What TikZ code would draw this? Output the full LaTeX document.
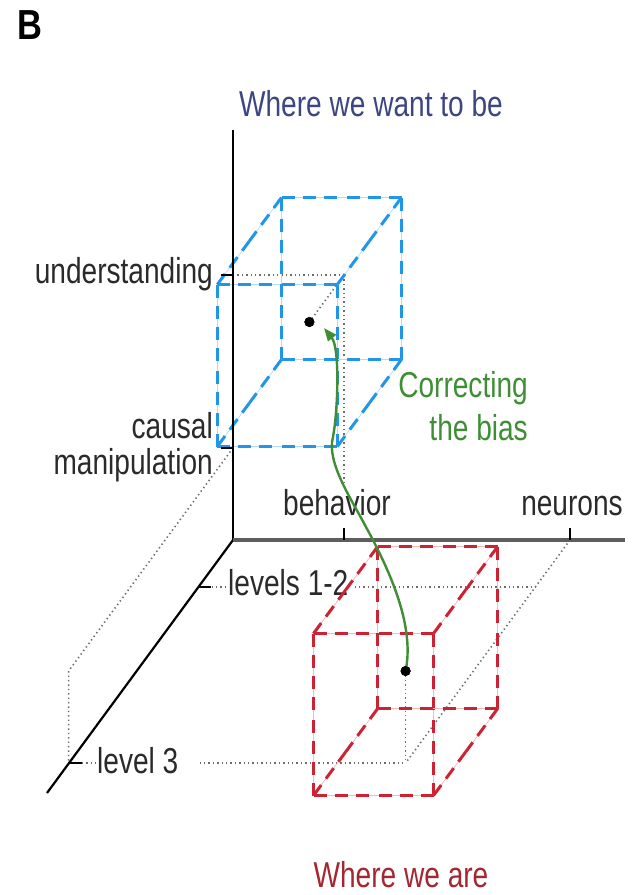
\documentclass[tikz,border=0pt]{standalone}
\usepackage{fontspec}
\setmainfont{Liberation Sans}
\usepackage{graphicx}
\usetikzlibrary{arrows.meta,calc}
\definecolor{txtgray}{HTML}{2A2A2A}
\definecolor{titleblue}{HTML}{3C4682}
\definecolor{titlered}{HTML}{A32630}
\definecolor{corrgreen}{HTML}{3F8E36}
\definecolor{cubeblue}{HTML}{2196E8}
\definecolor{cubebluelt}{HTML}{B4DAF6}
\definecolor{cubered}{HTML}{CC2233}
\definecolor{cuberedlt}{HTML}{F3B8B8}
\definecolor{axisgray}{HTML}{5E5E5E}
\definecolor{guidegray}{HTML}{6E6E6E}
\newcommand\sqz[1]{\scalebox{0.78}[1]{#1}}
\newcommand\drawcube[3]{%
  \begin{scope}[shift={#1}]
    \coordinate (#3FTL) at (-92.1,-37.5);
    \coordinate (#3FTR) at (27.9,-37.5);
    \coordinate (#3FBL) at (-92.1,124.5);
    \coordinate (#3FBR) at (27.9,124.5);
    \coordinate (#3BTL) at (-27.9,-124.5);
    \coordinate (#3BTR) at (92.1,-124.5);
    \coordinate (#3BBL) at (-27.9,37.5);
    \coordinate (#3BBR) at (92.1,37.5);
  \end{scope}
  \foreach \p/\q in {FTL/FTR,FTR/FBR,FBR/FBL,FBL/FTL,BTL/BTR,BTR/BBR,BBR/BBL,BBL/BTL,FTL/BTL,FTR/BTR,FBR/BBR,FBL/BBL}{
    \draw[#2lt, line width=0.7pt] (#3\p) -- (#3\q);
    \draw[#2, line width=3pt, dash pattern=on 13pt off 8pt] (#3\p) -- ($(#3\p)!0.5!(#3\q)$);
    \draw[#2, line width=3pt, dash pattern=on 13pt off 8pt] (#3\q) -- ($(#3\p)!0.5!(#3\q)$);
  }%
}
\begin{document}
\begin{tikzpicture}[x=1pt,y=-1pt,
  lbl/.style={inner sep=0pt, font=\fontsize{36}{40}\selectfont, text=txtgray},
  guide/.style={draw=guidegray, line width=1.6pt, dash pattern=on 1.4pt off 3pt},
  axisline/.style={draw=black, line width=2pt},
  tickline/.style={draw=black, line width=1.6pt},
  dotnode/.style={circle, fill=black, inner sep=0pt, minimum size=10pt},
  greenarrow/.style={draw=corrgreen, line width=2.4pt, -{Triangle[length=13pt,width=10pt]}}]
\useasboundingbox (0,0) rectangle (641,895);

% key coordinates
\coordinate (O) at (233,540);
\coordinate (vtop) at (233,130);
\coordinate (hend) at (625,540);
\coordinate (dend) at (47,793);
\coordinate (undtick) at (233,275);
\coordinate (caustick) at (233,448);
\coordinate (behfloor) at (344,540);
\coordinate (neufloor) at (570,540);
\coordinate (l12ax) at (198.4,587);
\coordinate (l3ax) at (68.6,763);
\coordinate (behund) at (344,275);
\coordinate (behlow) at (344,487);
\coordinate (neu12) at (535.4,587);
\coordinate (neu3) at (405.6,763);
\coordinate (caus3) at (68.6,671);
\coordinate (arrowtip) at (324,328);

% labels
\node[inner sep=0pt, font=\fontsize{42}{46}\selectfont\bfseries, text=black, anchor=base west] (panel) at (17,39) {\scalebox{0.82}[1]{B}};
\node[lbl, text=titleblue, anchor=base] (wantbe) at (371,116.5) {\sqz{Where we want to be}};
\node[lbl, text=titlered, anchor=base] (weare) at (401,887) {\sqz{Where we are}};
\node[lbl, anchor=base east] (und) at (213,283) {\sqz{understanding}};
\node[lbl, anchor=base east] (caus) at (213,438) {\sqz{causal}};
\node[lbl, anchor=base east] (manip) at (213,474) {\sqz{manipulation}};
\node[lbl, anchor=base] (beh) at (337,515) {\sqz{behavior}};
\node[lbl, anchor=base] (neu) at (572,515) {\sqz{neurons}};
\node[lbl, anchor=base west] (lev12) at (228,595) {\sqz{levels 1-2}};
\node[lbl, anchor=base west] (lev3) at (97,773) {\sqz{level 3}};
\node[lbl, text=corrgreen, anchor=base east] (corr) at (528,397) {\sqz{Correcting}};
\node[lbl, text=corrgreen, anchor=base east] (bias) at (528,440) {\sqz{the bias}};

% dots
\node[dotnode] (bluedot) at (309.4,322) {};
\node[dotnode] (reddot) at (405.6,671) {};

% guide lines
\draw[guide] (undtick) -- (behund);
\draw[guide] (behund) -- (bluedot.center);
\draw[guide] (behund) -- (behlow);
\draw[guide] (caustick) -- (caus3) -- (l3ax);
\draw[guide] (l12ax) -- (lev12.west |- l12ax);
\draw[guide] ([xshift=6pt]lev12.east |- l12ax) -- (neu12);
\draw[guide] (l3ax) -- (lev3.west |- l3ax);
\draw[guide] ([xshift=21pt]lev3.east |- l3ax) -- (neu3);
\draw[guide] (reddot.center) -- (neu3);
\draw[guide] (neufloor) -- (neu3);

% cubes
\drawcube{(309.4,322)}{cubeblue}{b}
\drawcube{(405.6,671)}{cubered}{r}

% axes
\draw[axisline] (vtop) -- (O);
\draw[axisline, line width=2.2pt] (O) -- (dend);
\draw[draw=axisgray, line width=4pt] (O) -- (hend);

% ticks
\draw[tickline] (undtick) -- ++(-12,0);
\draw[tickline] (caustick) -- ++(-12,0);
\draw[tickline] (behfloor) -- ++(0,-12);
\draw[tickline] (neufloor) -- ++(0,-12);
\draw[tickline] (l12ax) -- ++(13,0);
\draw[tickline] (l3ax) -- ++(13,0);

% correcting curve
\draw[greenarrow] (reddot.center) .. controls (414,630) and (395,580) .. (366,527)
  .. controls (352,500) and (326,462) .. (333,437)
  .. controls (338,410) and (340,348) .. (arrowtip);
\node[dotnode] at (bluedot.center) {};
\node[dotnode] at (reddot.center) {};
\end{tikzpicture}
\end{document}
